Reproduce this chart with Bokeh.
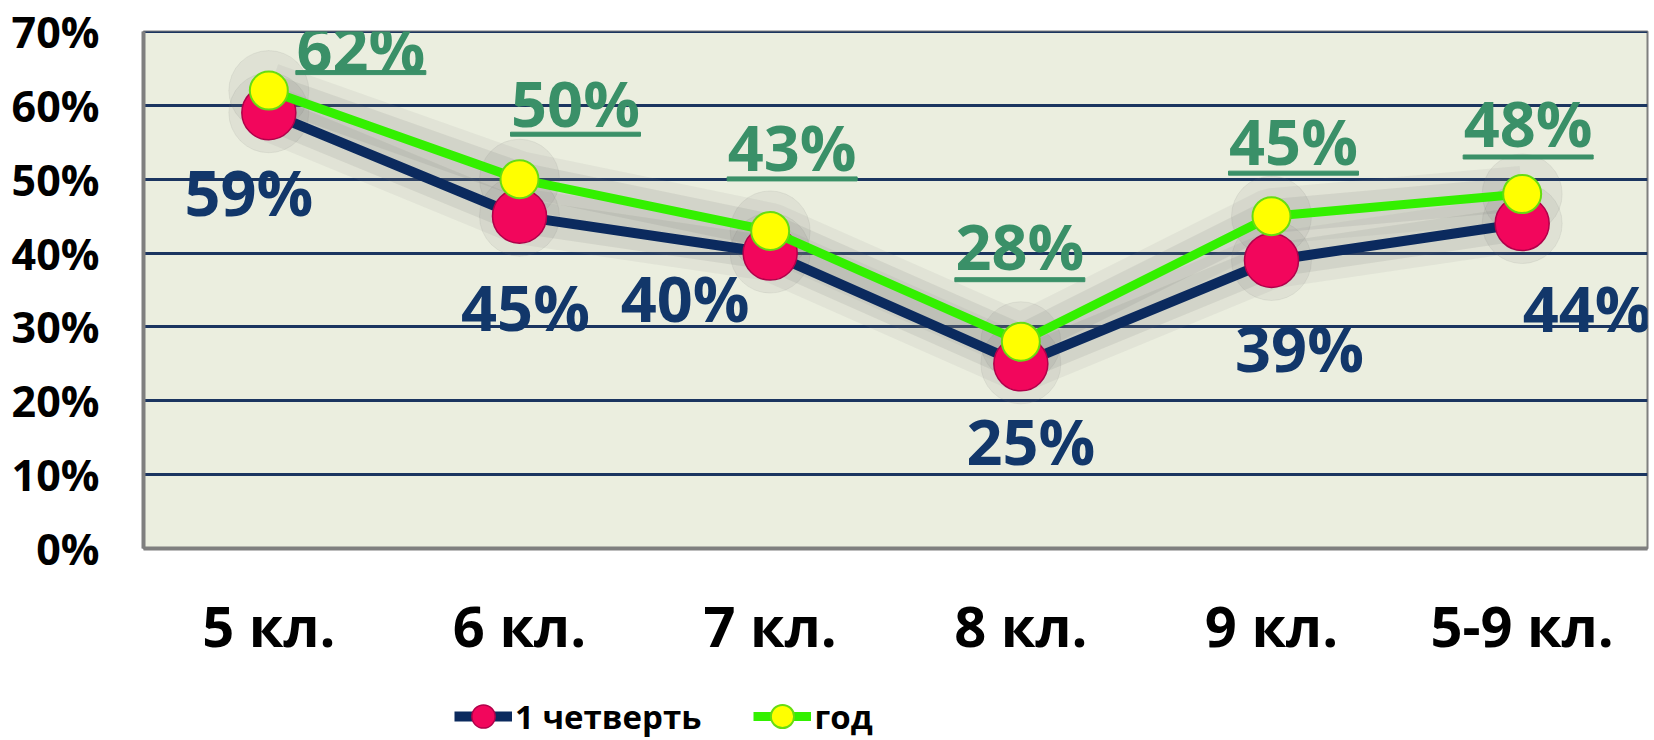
from bokeh.plotting import figure
from bokeh.layouts import column
from bokeh.models import (ColumnDataSource, FixedTicker, NumeralTickFormatter,
                          Legend, LegendItem, Span, FactorRange, Range1d)
from bokeh.core.properties import value
from bokeh.embed import file_html
from bokeh.resources import INLINE

# ---------------- data ----------------
categories = ["5 кл.", "6 кл.", "7 кл.", "8 кл.", "9 кл.", "5-9 кл."]
quarter1 = [0.59, 0.45, 0.40, 0.25, 0.39, 0.44]
year = [0.62, 0.50, 0.43, 0.28, 0.45, 0.48]
series_names = ["1 четверть", "год"]
y_ticks = [0.0, 0.1, 0.2, 0.3, 0.4, 0.5, 0.6, 0.7]

# ---------------- label layout (screen px, +x right, +y down) ----------------
q1_dx = [-20, 6, -85, 10, 28, 65]
q1_dy = [79, 90, 44, 77, 87, 84]
yr_dx = [92, 56, 22, -1, 22, 6]
yr_dy = [-43, -77, -84, -96, -76, -71]
ul_gap = [25, 32, 32, 34, 33, 34]

FONT = "Open Sans"
NAVY = "#0B2A5E"
NAVY_TXT = "#12376A"
PINK = "#F2065C"
PINK_EDGE = "#B0004A"
LIME = "#33F000"
YELLOW = "#FFFF00"
YELLOW_EDGE = "#66DD11"
GREEN_TXT = "#3A9068"
GRID = "#1B3560"

FW, FH = 1504, 517
BL, BR, BT, BB = 143, 7, 31, 132
CAT_PX = FW / len(categories)
Y_PX = FH / 0.7

p = figure(frame_width=FW, frame_height=FH, x_range=FactorRange(*categories),
           y_range=Range1d(0, 0.7), output_backend="svg", toolbar_location=None,
           min_border_left=BL, min_border_right=BR, min_border_top=BT,
           min_border_bottom=BB)
p.x_range.range_padding = 0
p.background_fill_color = "#EBEEDF"
p.border_fill_color = "white"
p.outline_line_color = "#7F7F7F"
p.outline_line_width = 2

# grid
p.xgrid.grid_line_color = None
p.ygrid.grid_line_color = GRID
p.ygrid.grid_line_width = 3
p.ygrid.ticker = FixedTicker(ticks=y_ticks)
p.add_layout(Span(location=0.7, dimension="width", line_color=GRID,
                  line_width=3, level="underlay"))

# axes
p.yaxis.ticker = FixedTicker(ticks=y_ticks)
p.yaxis.formatter = NumeralTickFormatter(format="0%")
p.yaxis.major_tick_line_color = None
p.yaxis.minor_tick_line_color = None
p.yaxis.major_tick_out = 0
p.yaxis.major_label_standoff = 44
p.yaxis.axis_line_color = "#7F7F7F"
p.yaxis.axis_line_width = 4
p.yaxis.major_label_text_font = FONT
p.yaxis.major_label_text_font_style = "bold"
p.yaxis.major_label_text_font_size = "43px"
p.yaxis.major_label_text_color = "black"

p.xaxis.major_tick_line_color = None
p.xaxis.major_tick_out = 0
p.xaxis.major_label_standoff = 38
p.xaxis.axis_line_color = "#7F7F7F"
p.xaxis.axis_line_width = 4
p.xaxis.major_label_text_font = FONT
p.xaxis.major_label_text_font_style = "bold"
p.xaxis.major_label_text_font_size = "56px"
p.xaxis.major_label_text_color = "black"

# soft shadow halo
for vals in (quarter1, year):
    p.line(categories, vals, line_width=56, color="#8A8A8A", alpha=0.10)
    p.line(categories, vals, line_width=34, color="#6A6A6A", alpha=0.12)
    p.scatter(categories, vals, size=80, color="#777777", alpha=0.10)

# series
p.line(categories, quarter1, line_width=10, color=NAVY)
p.scatter(categories, quarter1, size=54, fill_color=PINK,
          line_color=PINK_EDGE, line_width=1.5)
p.line(categories, year, line_width=9, color=LIME)
p.scatter(categories, year, size=38, fill_color=YELLOW,
          line_color=YELLOW_EDGE, line_width=2)

# data labels
q1_src = ColumnDataSource(dict(x=categories, y=quarter1,
                               t=[f"{round(v*100)}%" for v in quarter1],
                               dx=q1_dx, dy=q1_dy))
p.text(x="x", y="y", text="t", x_offset="dx", y_offset="dy", source=q1_src,
       text_font=value(FONT), text_font_style="bold", text_font_size="63px",
       text_color=NAVY_TXT, text_align="center", text_baseline="middle")

yr_src = ColumnDataSource(dict(x=categories, y=year,
                               t=[f"{round(v*100)}%" for v in year],
                               dx=yr_dx, dy=yr_dy))
p.text(x="x", y="y", text="t", x_offset="dx", y_offset="dy", source=yr_src,
       text_font=value(FONT), text_font_style="bold", text_font_size="63px",
       text_color=GREEN_TXT, text_align="center", text_baseline="middle")

# underline of "год" labels
ul_x = [(c, dx / CAT_PX) for c, dx in zip(categories, yr_dx)]
ul_y = [v - (dy + g) / Y_PX for v, dy, g in zip(year, yr_dy, ul_gap)]
p.rect(x=ul_x, y=ul_y, width=130, height=4, width_units="screen",
       height_units="screen", color=GREEN_TXT)

# ---------------- legend strip ----------------
LH = 62
lf = figure(width=BL + FW + BR, height=72, x_range=p.x_range, y_range=Range1d(2, 3),
            output_backend="svg", toolbar_location=None, min_border=0,
            x_axis_location=None, y_axis_location=None)
lf.outline_line_color = None
lf.background_fill_color = "white"
lf.border_fill_color = "white"
lf.xgrid.visible = False
lf.ygrid.visible = False
l1 = lf.line(categories, quarter1, line_width=10, color=NAVY)
m1 = lf.scatter(categories, quarter1, size=54, fill_color=PINK,
                line_color=PINK_EDGE, line_width=1.5)
l2 = lf.line(categories, year, line_width=9, color=LIME)
m2 = lf.scatter(categories, year, size=38, fill_color=YELLOW,
                line_color=YELLOW_EDGE, line_width=2)
legend = Legend(items=[LegendItem(label=series_names[0], renderers=[l1, m1]),
                       LegendItem(label=series_names[1], renderers=[l2, m2])],
                orientation="horizontal", location=(311, 5),
                glyph_width=58, glyph_height=LH, label_standoff=3, spacing=52,
                padding=0, margin=0, border_line_color=None,
                background_fill_alpha=0, label_height=LH,
                label_text_font=FONT, label_text_font_style="bold",
                label_text_font_size="33px", label_text_color="black")
lf.add_layout(legend, "center")

open("out.html", "w").write(file_html(column(p, lf, spacing=0), INLINE))
